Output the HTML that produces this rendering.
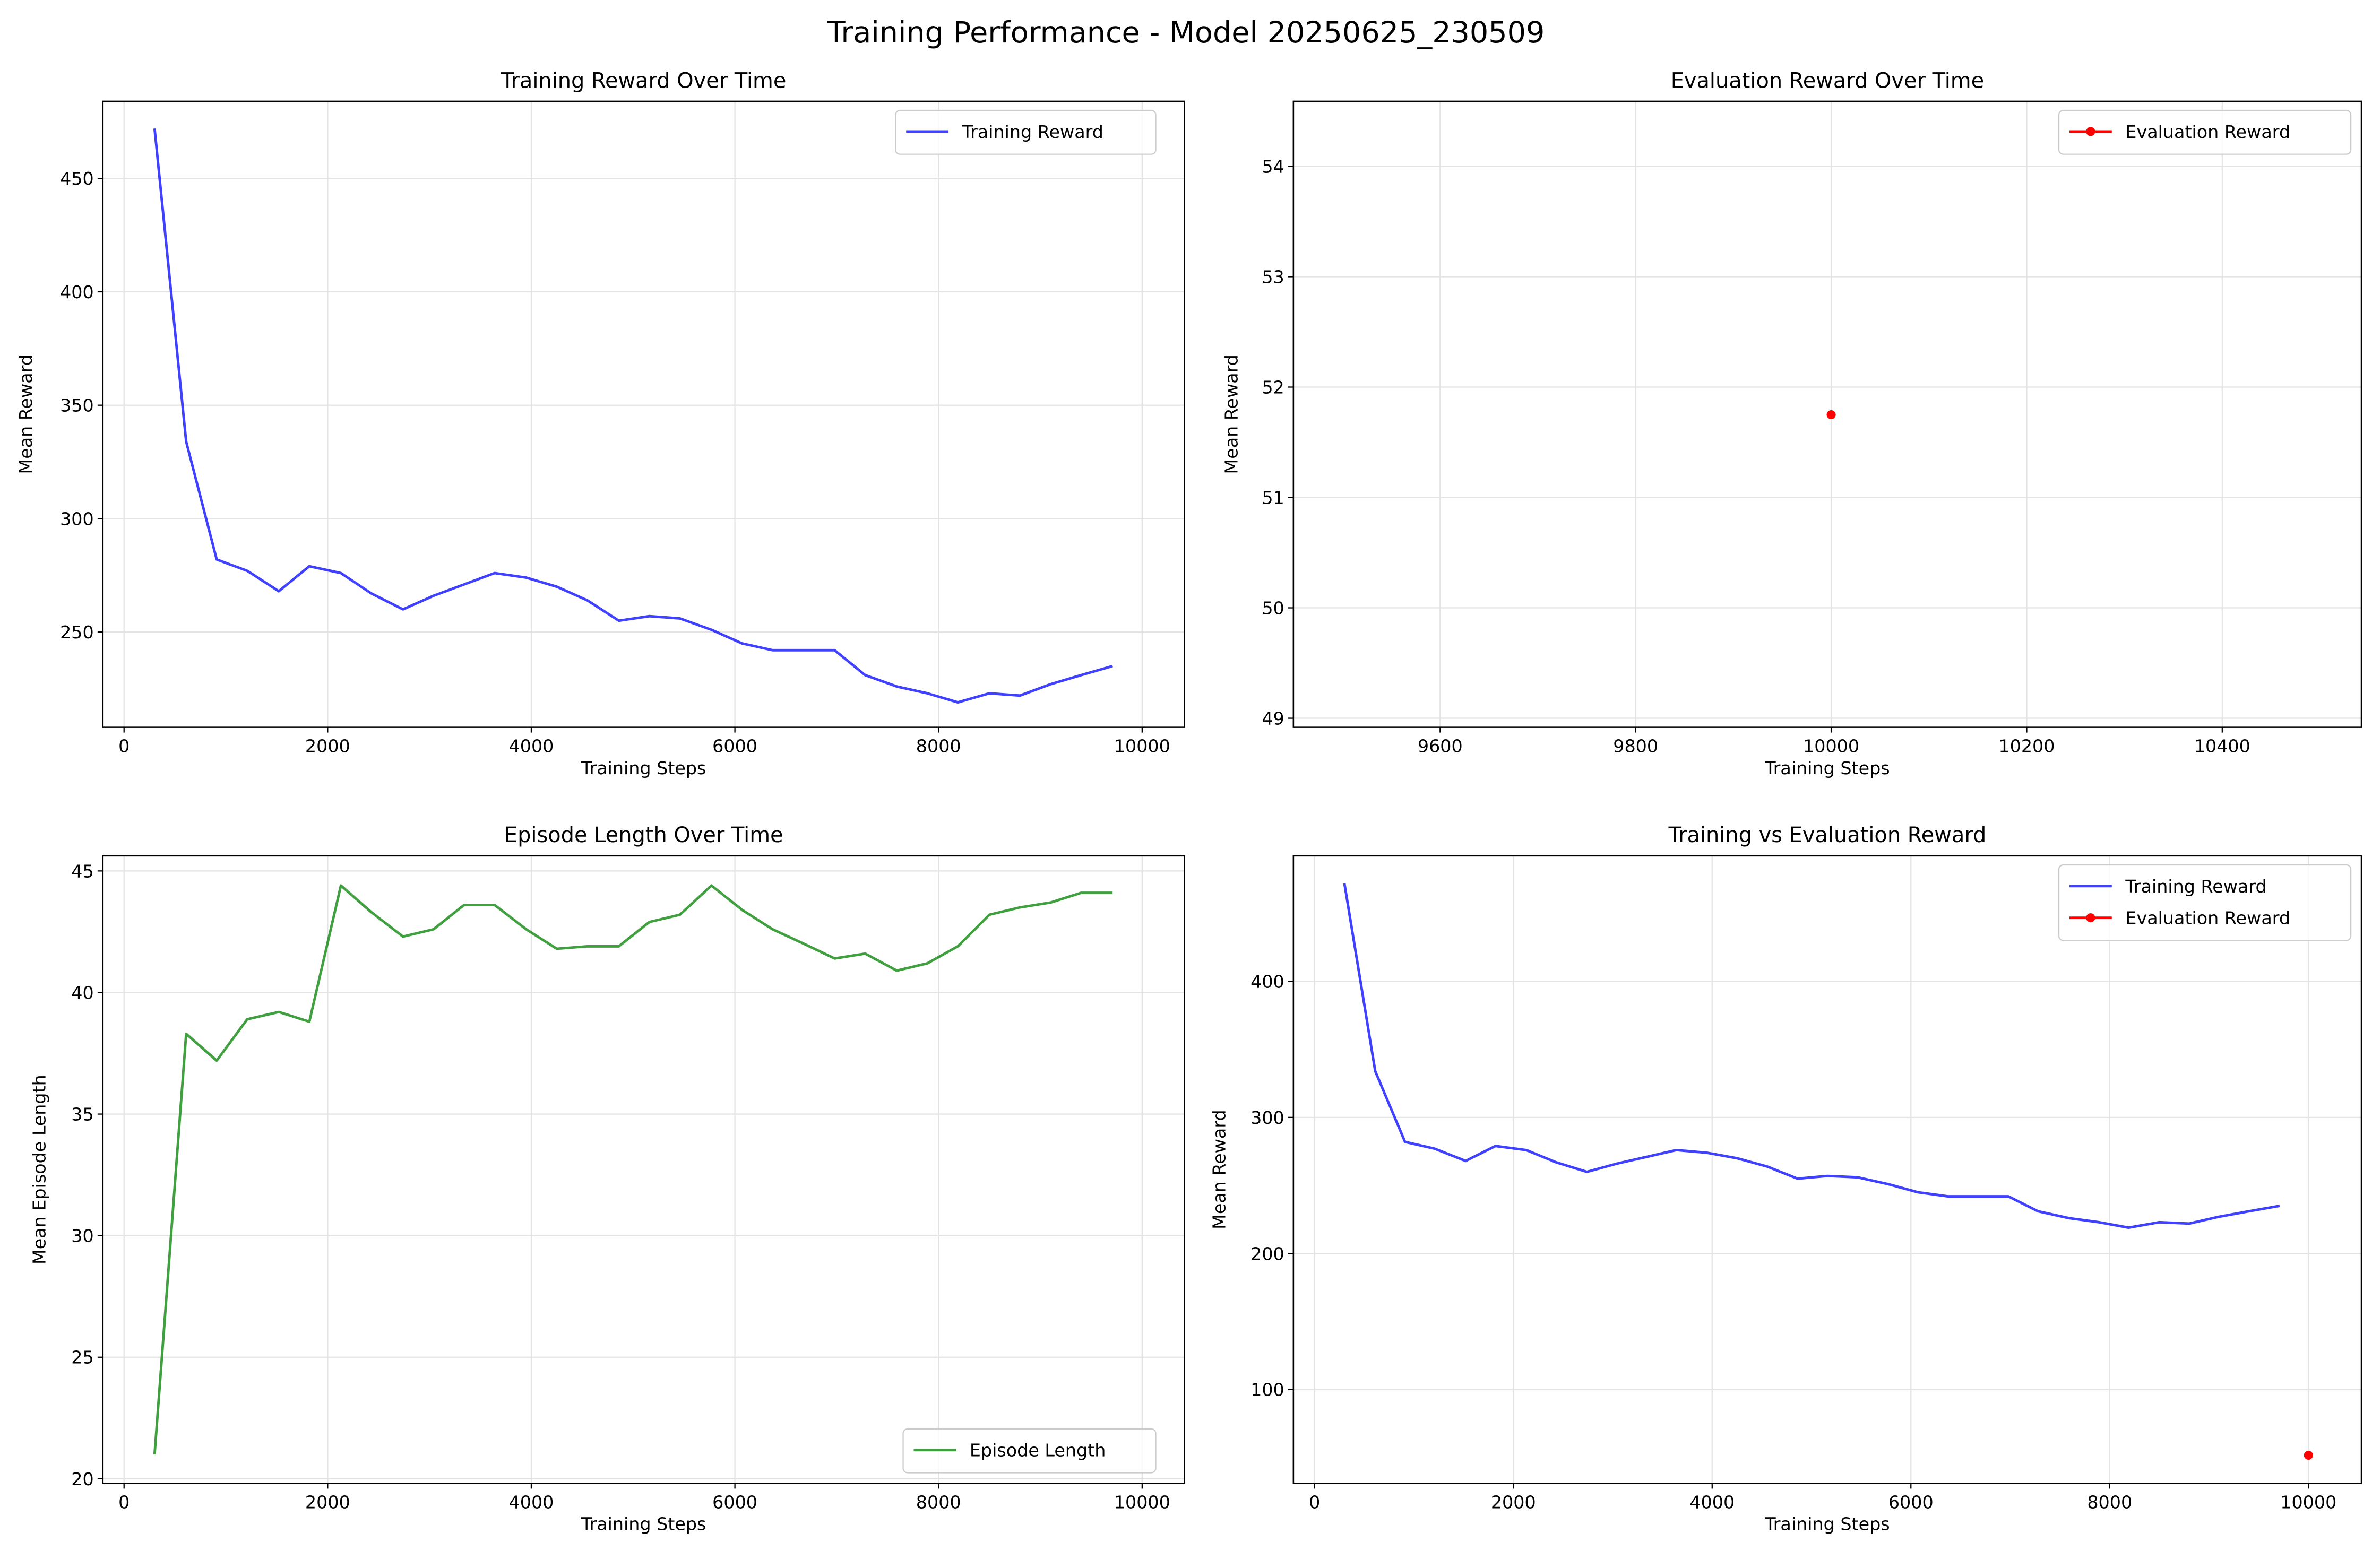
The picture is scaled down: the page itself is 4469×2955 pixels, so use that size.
<!DOCTYPE html>
<html><head><meta charset="utf-8"><style>
html,body{margin:0;padding:0;background:#fff}
svg{display:block}
text{font-family:"DejaVu Sans","Liberation Sans",sans-serif;fill:#000}
</style></head><body>
<svg id="fig" width="4469" height="2955" viewBox="0 0 1568 1037" preserveAspectRatio="none" xmlns="http://www.w3.org/2000/svg">
<rect width="1568" height="1037" fill="#fff"/>
<text x="784" y="28" font-size="19.5" text-anchor="middle">Training Performance - Model 20250625_230509</text>
</svg>
<script>
const steps = [300,610,910,1210,1520,1820,2130,2430,2740,3040,3340,3640,3950,4250,4550,4860,5160,5460,5770,6070,6370,6680,6980,7280,7590,7890,8190,8500,8800,9100,9400,9710];
const trainReward = [472,334,282,277,268,279,276,267,260,266,271,276,274,270,264,255,257,256,251,245,242,242,242,231,226,223,219,223,222,227,231,235];
const episodeLength = [21,38.3,37.2,38.9,39.2,38.8,44.4,43.3,42.3,42.6,43.6,43.6,42.6,41.8,41.9,41.9,42.9,43.2,44.4,43.4,42.6,42.0,41.4,41.6,40.9,41.2,41.9,43.2,43.5,43.7,44.1,44.1];
const evalSteps = [10000];
const evalReward = [51.75];
const ticks1x = [0,2000,4000,6000,8000,10000];
const ticks1y = [250,300,350,400,450];
const ticks2x = [9600,9800,10000,10200,10400];
const ticks2y = [49,50,51,52,53,54];
const ticks3y = [20,25,30,35,40,45];
const ticks4y = [100,200,300,400];

const NS="http://www.w3.org/2000/svg";
const fig=document.getElementById('fig');
function el(tag,attrs,parent){const e=document.createElementNS(NS,tag);for(const k in attrs)e.setAttribute(k,attrs[k]);(parent||fig).appendChild(e);return e;}
function lin(d0,d1,p0,p1){return v=>p0+(v-d0)*(p1-p0)/(d1-d0);}

function panel(o){
  const g=el('g',{});
  
  
  const {x0,x1,y0,y1}=o;
  o.xt.forEach(t=>{const x=o.sx(t);const l=el('line',{x1:x,x2:x,y1:y0,y2:y1,stroke:'#e3e3e3','stroke-width':0.8},g);});
  o.yt.forEach(t=>{const y=o.sy(t);const l=el('line',{x1:x0,x2:x1,y1:y,y2:y,stroke:'#e3e3e3','stroke-width':0.8},g);});
  o.xt.forEach(t=>{const x=o.sx(t);el('line',{x1:x,x2:x,y1:y1,y2:y1+3.5,stroke:'#000','stroke-width':0.8},g);const tx=el('text',{x:x,y:y1+16.5,'font-size':11.7,'text-anchor':'middle'},g);tx.textContent=t;});
  o.yt.forEach(t=>{const y=o.sy(t);el('line',{x1:x0-3.5,x2:x0,y1:y,y2:y,stroke:'#000','stroke-width':0.8},g);const tx=el('text',{x:x0-6,y:y+4.2,'font-size':11.7,'text-anchor':'end'},g);tx.textContent=t;});
  o.series.forEach(s=>{
    if(s.line){const pts=s.xs.map((v,i)=>o.sx(v)+','+o.sy(s.ys[i])).join(' ');const p=el('polyline',{points:pts,fill:'none',stroke:s.color,'stroke-width':1.7,'stroke-opacity':s.alpha||1,'stroke-linejoin':'round'},g);}
    if(s.marker){s.xs.forEach((v,i)=>{const c=el('circle',{cx:o.sx(v),cy:o.sy(s.ys[i]),r:3,fill:s.color},g);});}
  });
  el('rect',{x:x0,y:y0,width:x1-x0,height:y1-y0,fill:'none',stroke:'#000','stroke-width':0.9},g);
  const t=el('text',{x:(x0+x1)/2,y:y0-9,'font-size':14,'text-anchor':'middle'},g);t.textContent=o.title;
  const xl=el('text',{x:(x0+x1)/2,y:y1+31,'font-size':11.7,'text-anchor':'middle'},g);xl.textContent='Training Steps';
  const yx=o.ylx, yy=(y0+y1)/2;
  const yl=el('text',{x:yx,y:yy,'font-size':11.7,'text-anchor':'middle',transform:`rotate(-90 ${yx} ${yy})`},g);yl.textContent=o.ylabel;
  const L=o.legend;const h=L.items.length*21+8;
  const lg=el('g',{},g);
  el('rect',{x:L.x,y:L.y,width:L.w,height:h,rx:3,fill:'#fff','fill-opacity':0.8,stroke:'#ccc','stroke-width':0.8},lg);
  L.items.forEach((it,i)=>{const cy=L.y+14+i*21;
    el('line',{x1:L.x+7,x2:L.x+35,y1:cy,y2:cy,stroke:it.color,'stroke-width':1.7,'stroke-opacity':it.alpha||1},lg);
    if(it.marker)el('circle',{cx:L.x+21,cy:cy,r:3,fill:it.color},lg);
    const tx=el('text',{x:L.x+44,y:cy+4.2,'font-size':11.7},lg);tx.textContent=it.label;});
}

const sxA=lin(0,10000,82,755);
panel({name:'training-reward-panel',title:'Training Reward Over Time',ylabel:'Mean Reward',ylx:21,x0:68,x1:783,y0:67,y1:481,sx:sxA,sy:lin(250,450,418,118),xt:ticks1x,yt:ticks1y,
  series:[{id:'training-reward-line',xs:steps,ys:trainReward,color:'#0000ff',alpha:0.75,line:true}],
  legend:{x:592,y:73,w:172,items:[{label:'Training Reward',color:'#0000ff',alpha:0.75}]}});
panel({name:'evaluation-reward-panel',title:'Evaluation Reward Over Time',ylabel:'Mean Reward',ylx:818,x0:855,x1:1561,y0:67,y1:481,sx:lin(9600,10400,952,1469),sy:lin(49,54,475,110),xt:ticks2x,yt:ticks2y,
  series:[{id:'evaluation-reward-series',xs:evalSteps,ys:evalReward,color:'#ff0000',line:true,marker:true}],
  legend:{x:1361,y:73,w:193,items:[{label:'Evaluation Reward',color:'#ff0000',marker:true}]}});
panel({name:'episode-length-panel',title:'Episode Length Over Time',ylabel:'Mean Episode Length',ylx:30,x0:68,x1:783,y0:566,y1:981,sx:sxA,sy:lin(20,45,978,576),xt:ticks1x,yt:ticks3y,
  series:[{id:'episode-length-line',xs:steps,ys:episodeLength,color:'#008000',alpha:0.75,line:true}],
  legend:{x:597,y:945,w:167,items:[{label:'Episode Length',color:'#008000',alpha:0.75}]}});
panel({name:'training-vs-evaluation-panel',title:'Training vs Evaluation Reward',ylabel:'Mean Reward',ylx:810,x0:855,x1:1561,y0:566,y1:981,sx:lin(0,10000,869,1526),sy:lin(100,400,919,649),xt:ticks1x,yt:ticks4y,
  series:[{id:'training-reward-line',xs:steps,ys:trainReward,color:'#0000ff',alpha:0.75,line:true},{id:'evaluation-reward-series',xs:evalSteps,ys:evalReward,color:'#ff0000',line:true,marker:true}],
  legend:{x:1361,y:572,w:193,items:[{label:'Training Reward',color:'#0000ff',alpha:0.75},{label:'Evaluation Reward',color:'#ff0000',marker:true}]}});
</script>
</body></html>
